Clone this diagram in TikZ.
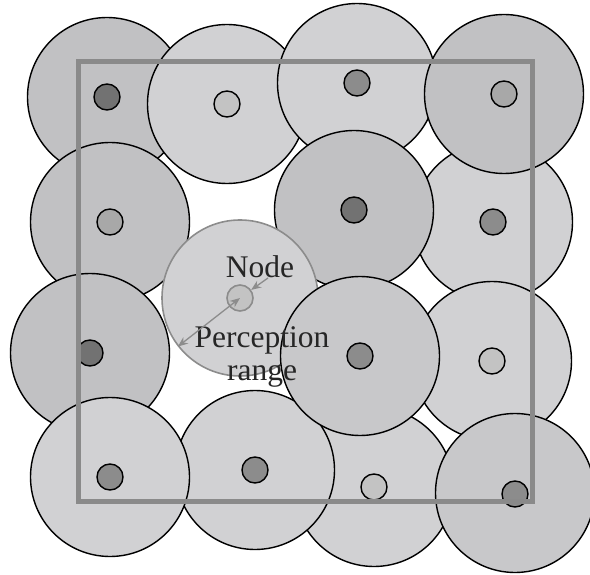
\documentclass[tikz,border=0pt]{standalone}
\usepackage{fontspec}
\setmainfont{Liberation Serif}
\usetikzlibrary{arrows.meta}
\definecolor{fillL}{HTML}{D1D1D3}
\definecolor{fillM}{HTML}{C1C1C3}
\definecolor{fillML}{HTML}{C8C8CA}
\definecolor{dotD}{HTML}{727272}
\definecolor{dotM}{HTML}{8C8C8C}
\definecolor{dotML}{HTML}{A8A8A8}
\definecolor{dotL}{HTML}{C3C3C3}
\definecolor{frameC}{HTML}{8A8A8A}
\definecolor{arrC}{HTML}{8C8C8C}
\tikzset{
  range/.style={circle, draw=black, line width=1.4pt, minimum size=159pt, inner sep=0pt, fill=#1},
  dot/.style={circle, draw=black, line width=1.4pt, minimum size=26pt, inner sep=0pt, fill=#1},
  lbl/.style={font=\fontsize{31.5}{33}\selectfont, inner sep=0pt, text=black!85},
  arr/.style={draw=arrC, line width=1.3pt, >={Stealth[length=10pt,width=8pt]}},
}
\begin{document}
\begin{tikzpicture}[x=1pt,y=-1pt]
\useasboundingbox (0,0) rectangle (590,575);
% range circles (drawn in stacking order)
\node[range=fillL]  (r7)  at (493,222) {};
\node[range=fillM]  (r1)  at (107,97)  {};
\node[range=fillL]  (r2)  at (227,104) {};
\node[range=fillL]  (r3)  at (357,83)  {};
\node[range=fillM]  (r4)  at (504,94)  {};
\node[range=fillM]  (r6)  at (354,210) {};
\node[range=fillM]  (r5)  at (110,222) {};
\node[range=fillL]  (r11) at (492,361) {};
\node[range=fillL]  (r14) at (374,487) {};
\node[range=fillM]  (r9)  at (90,353)  {};
\node[range=fillL]  (r13) at (255,470) {};
\node[range=fillL]  (r12) at (110,477) {};
\node[range=fillML] (r16) at (515,493) {};
% highlighted perception range
\node[circle, draw=arrC, line width=1.6pt, fill=fillL, minimum size=156pt, inner sep=0pt] (pc) at (240,298) {};
\node[range=fillML] (r10) at (360,356) {};
% sensor nodes
\node[dot=dotD]  (n1)  at (107,97)  {};
\node[dot=dotL]  (n2)  at (227,104) {};
\node[dot=dotM]  (n3)  at (357,83)  {};
\node[dot=dotML] (n4)  at (504,94)  {};
\node[dot=dotML] (n5)  at (110,222) {};
\node[dot=dotD]  (n6)  at (354,210) {};
\node[dot=dotM]  (n7)  at (493,222) {};
\node[dot=dotD]  (n9)  at (90,353)  {};
\node[dot=dotM]  (n10) at (360,356) {};
\node[dot=dotL]  (n11) at (492,361) {};
\node[dot=dotM]  (n12) at (110,477) {};
\node[dot=dotM]  (n13) at (255,470) {};
\node[dot=dotL]  (n14) at (374,487) {};
\node[dot=dotM]  (n16) at (515,494) {};
% area frame
\draw[draw=frameC, line width=5pt] (78,62) rectangle (532,501);
% highlighted node
\node[circle, draw=arrC, line width=1.6pt, fill=dotL, minimum size=26pt, inner sep=0pt] (pn) at (240,298) {};
% labels
\node[lbl, anchor=base] (tnode) at (260,278) {Node};
\node[lbl, anchor=north, align=center] (tper) at (262,326) {Perception\\range};
\coordinate (na) at (268,278);
\draw[arr, ->] (na) -- (pn.36);
\draw[arr, <->] (pn.center) -- (pc.218);
\end{tikzpicture}
\end{document}
